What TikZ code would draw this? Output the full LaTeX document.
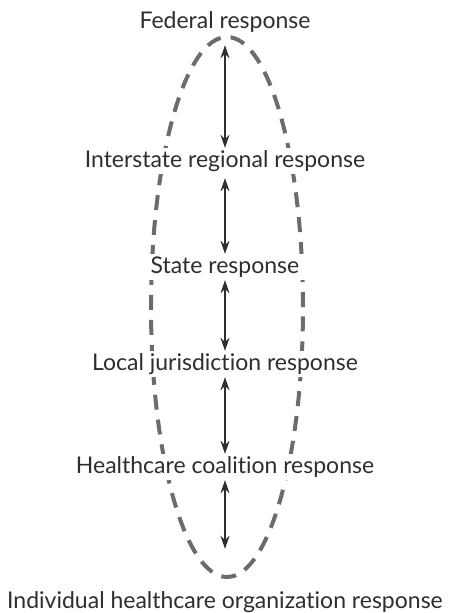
\documentclass[tikz,border=0pt]{standalone}
\usepackage{fontspec}
\setmainfont{Lato}[Ligatures=NoCommon]
\usepackage{tikz}
\usetikzlibrary{positioning, arrows.meta}
\definecolor{inkgray}{HTML}{2E2E2E}
\definecolor{ringgray}{HTML}{6C6C6C}
\tikzstyle{resp} = [text=inkgray, fill=white, font=\fontsize{23}{27}\selectfont, text height=17pt, text depth=5pt, inner ysep=2pt, inner xsep=7pt]
\tikzstyle{arrow} = [inkgray, line width=1.3pt, {Stealth[length=13pt,width=9pt]}-{Stealth[length=13pt,width=9pt]}]
\tikzstyle{ring} = [ringgray, line width=4pt, dash pattern=on 15pt off 10pt]

\begin{document}
\begin{tikzpicture}
                \useasboundingbox (0,0) rectangle (454pt,-613pt);
                \draw [ring] (227pt,-307pt) ellipse [x radius=76pt, y radius=270pt];

                \node (federal) [resp] at (225pt,-22pt) {Federal response};
                \node (interstate) [resp, node distance=139pt, below of=federal] {Interstate regional response};
                \node (state) [resp, node distance=106pt, below of=interstate] {State response};
                \node (local) [resp, node distance=97pt, below of=state] {Local jurisdiction response};
                \node (coalition) [resp, node distance=103pt, below of=local] {Healthcare coalition response};
                \node (individual) [resp, node distance=135pt, below of=coalition] {Individual healthcare organization response};

                \draw [arrow, shorten <=10pt] (federal) -- (interstate);
                \draw [arrow, shorten <=4pt] (interstate) -- (state);
                \draw [arrow] (state) -- (local);
                \draw [arrow] (local) -- (coalition);
                \draw [arrow, shorten >=40pt] (coalition) -- (individual);
            \end{tikzpicture}
\end{document}
